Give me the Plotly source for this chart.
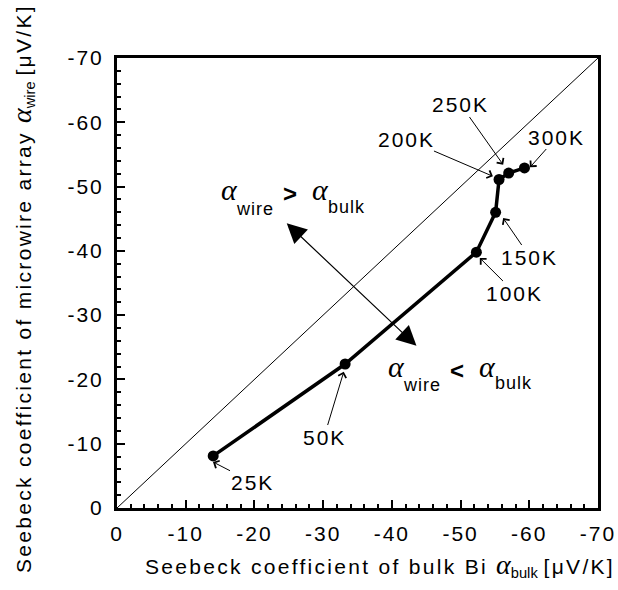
import plotly.graph_objects as go

# ---------------- data ----------------
temps = ["25K", "50K", "100K", "150K", "200K", "250K", "300K"]
alpha_bulk = [-14.0, -33.2, -52.3, -55.1, -55.6, -57.0, -59.3]
alpha_wire = [-8.1, -22.4, -39.8, -46.0, -51.1, -52.1, -52.9]

diag_x = [0, -70]
diag_y = [0, -70]

tick_vals = [0, -10, -20, -30, -40, -50, -60, -70]
tick_text = ["0", "-10", "-20", "-30", "-40", "-50", "-60", "-70"]
minor_vals = [v for v in range(0, -71, -2) if v % 10 != 0]

# temperature labels: text centre and arrow tip (data units)
label_x = [-19.65, -30.13, -57.92, -60.10, -42.06, -50.06, -64.03]
label_y = [-4.04, -11.04, -33.44, -39.04, -57.40, -62.69, -57.71]
tip_x = [-13.97, -33.0, -52.8, -56.2, -54.7, -56.2, -60.1]
tip_y = [-7.16, -21.2, -38.9, -45.1, -51.6, -53.4, -53.0]

SANS = "Arial, Liberation Sans, sans-serif"
SERIF = "Liberation Serif, Times New Roman, serif"


def spaced(s, px_):
    return "<span style='letter-spacing:%spx'>%s</span>" % (px_, s)


fig = go.Figure()
fig.add_trace(go.Scatter(x=diag_x, y=diag_y, mode="lines",
                         line=dict(color="black", width=1), hoverinfo="skip"))
fig.add_trace(go.Scatter(x=alpha_bulk, y=alpha_wire, mode="lines+markers",
                         line=dict(color="black", width=3.5),
                         marker=dict(color="black", size=11), text=temps))

L, R, T, B = 117, 20, 58, 82
W, H = 618, 590
PW, PH = W - L - R, H - T - B


def px(x, y):
    return (x - L) / PW, (H - B - y) / PH


ann = []
for i, t in enumerate(temps):
    ann.append(dict(x=tip_x[i], y=tip_y[i], xref="x", yref="y",
                    ax=label_x[i], ay=label_y[i], axref="x", ayref="y",
                    text=spaced(t, 2), showarrow=True, arrowhead=4, arrowsize=1.6,
                    arrowwidth=1, arrowcolor="black", standoff=0, borderpad=0,
                    font=dict(family=SANS, size=21, color="black"),
                    xanchor="center", yanchor="middle"))

# big double arrow
ann.append(dict(x=-24.7, y=-44.3, xref="x", yref="y", ax=-43.8, ay=-25.0,
                axref="x", ayref="y", text="", showarrow=True,
                arrowside="end+start", arrowhead=2, startarrowhead=2,
                arrowsize=3.3, startarrowsize=3.3, arrowwidth=1.2,
                arrowcolor="black", standoff=0, startstandoff=0))

# alpha expressions (pixel centres)
pieces = [
    ("α", 229.5, 189, SERIF, 30, True, False),
    ("wire", 255, 209, SANS, 18, False, False),
    (">", 290, 193, SANS, 24, False, True),
    ("α", 320.5, 189, SERIF, 30, True, False),
    ("bulk", 346.5, 207, SANS, 18, False, False),
    ("α", 396, 366, SERIF, 30, True, False),
    ("wire", 422, 385, SANS, 18, False, False),
    ("<", 457, 370, SANS, 24, False, True),
    ("α", 487.5, 366, SERIF, 30, True, False),
    ("bulk", 513.5, 383, SANS, 18, False, False),
]
for txt, x, y, fam, sz, it, bd in pieces:
    s = txt
    if it:
        s = "<i>" + s + "</i>"
    if bd:
        s = "<b>" + s + "</b>"
    if fam == SANS and not bd:
        s = spaced(s, 1)
    xp, yp = px(x, y)
    ann.append(dict(x=xp, y=yp, xref="paper", yref="paper", text=s, showarrow=False,
                    font=dict(family=fam, size=sz, color="black"),
                    xanchor="center", yanchor="middle"))

alpha_span = "<span style='font-family:Liberation Serif;font-size:28px'><i>α</i></span>"
xt = (spaced("Seebeck coefficient of bulk Bi ", 2.3) + alpha_span +
      "<sub>bulk</sub> " + spaced("[μV/K]", 2.3))
yt = (spaced("Seebeck coefficient of microwire array ", 2.3) + alpha_span +
      "<sub>wire</sub> " + spaced("[μV/K]", 2.3))
xp, yp = px(380, 565)
ann.append(dict(x=xp, y=yp, xref="paper", yref="paper", text=xt, showarrow=False,
                font=dict(family=SANS, size=21, color="black"),
                xanchor="center", yanchor="middle"))
xp, yp = px(22, 289)
ann.append(dict(x=xp, y=yp, xref="paper", yref="paper", text=yt, showarrow=False,
                textangle=-90, font=dict(family=SANS, size=21, color="black"),
                xanchor="center", yanchor="middle"))

axis_common = dict(
    range=[0, -70], tickmode="array", tickvals=tick_vals,
    ticktext=[spaced(t, 2) for t in tick_text],
    ticks="inside", ticklen=8, tickwidth=2, tickcolor="black",
    showline=True, linewidth=3, linecolor="black", mirror=True,
    showgrid=False, zeroline=False, automargin=False,
    tickfont=dict(family=SANS, size=21, color="black"),
    minor=dict(tickmode="array", tickvals=minor_vals, ticks="inside",
               ticklen=4, tickwidth=1.5, tickcolor="black", showgrid=False),
)
fig.update_layout(
    width=W, height=H, margin=dict(l=L, r=R, t=T, b=B, autoexpand=False),
    paper_bgcolor="white", plot_bgcolor="white", showlegend=False,
    xaxis=dict(**axis_common, ticklabelstandoff=5),
    yaxis=dict(**axis_common, ticklabelstandoff=6),
    annotations=ann,
)
fig.write_html("out.html", config={"displayModeBar": False},
               post_script="document.body.style.margin='0';document.body.style.padding='0';")
